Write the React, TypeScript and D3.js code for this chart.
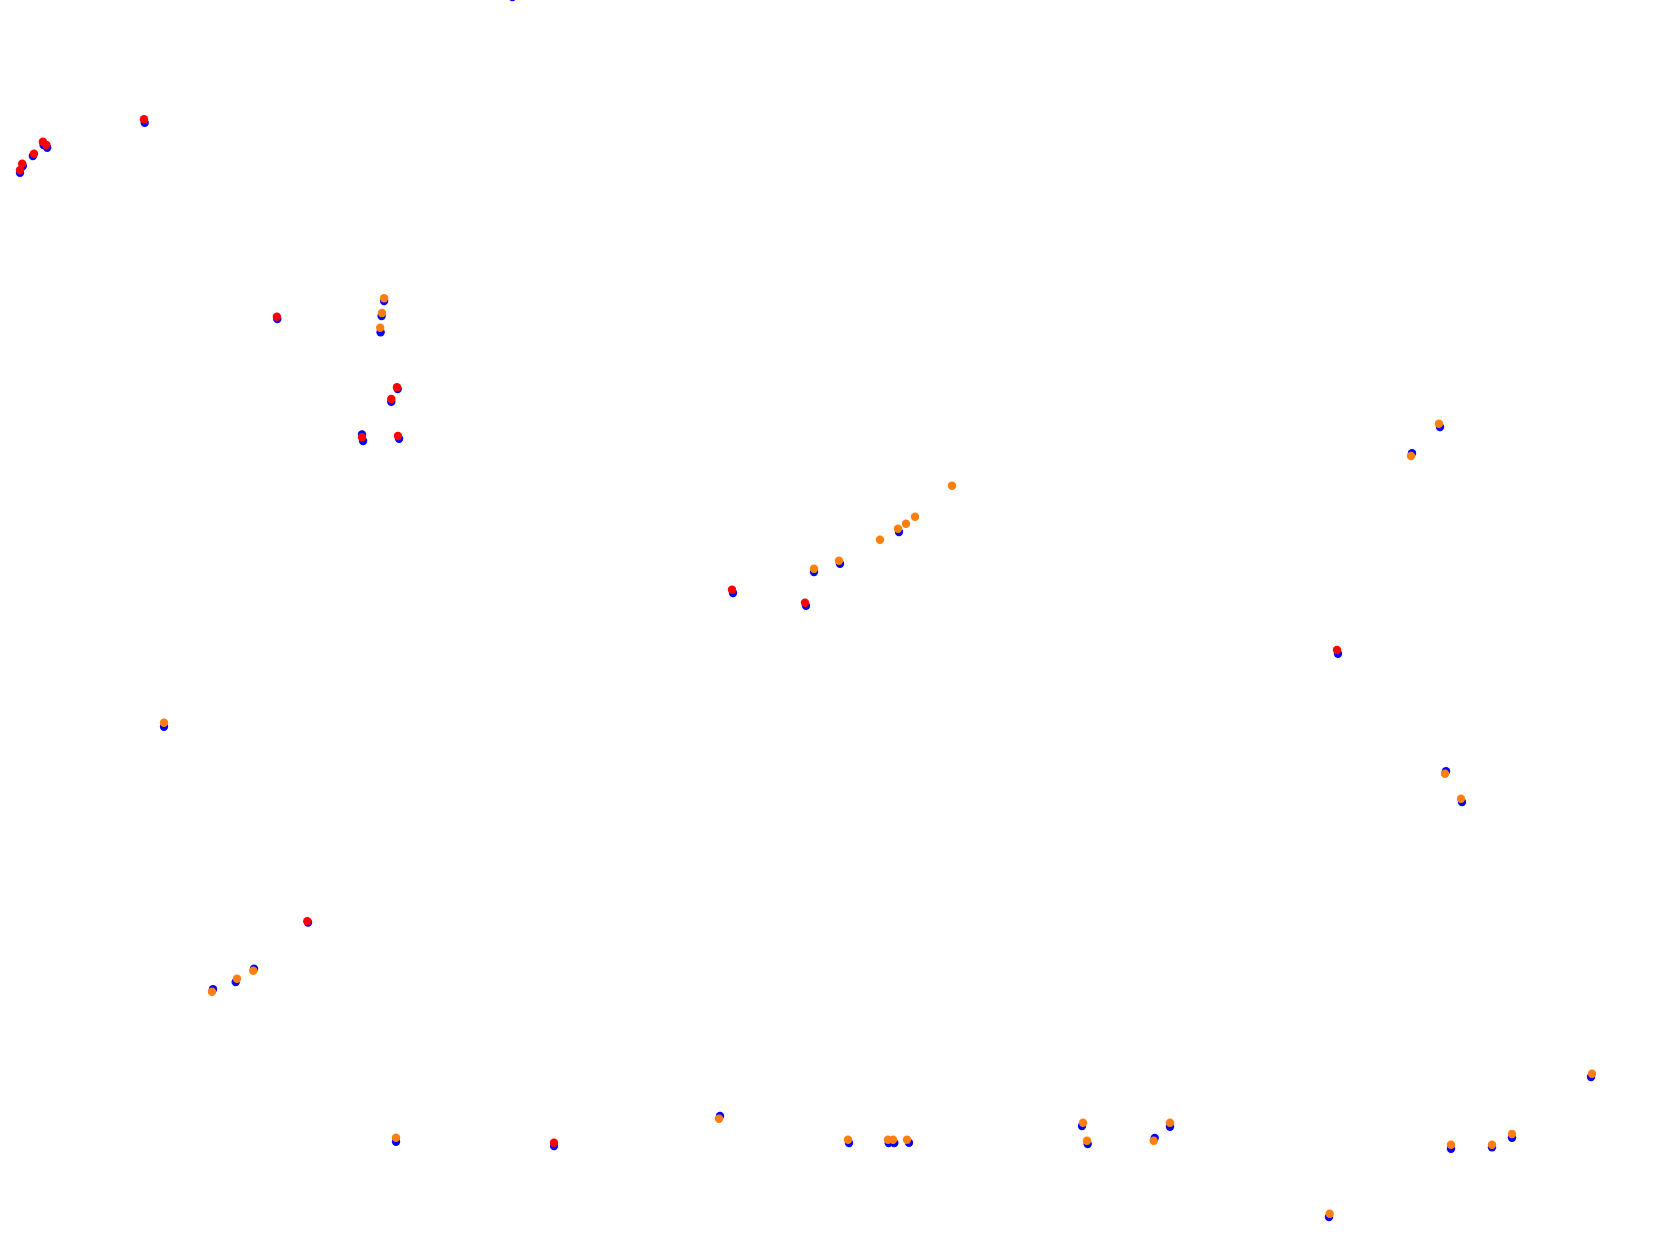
import React from "react";
import * as d3 from "d3";

// Series A (blue) – x, y in chart units
const blueX = [51.24, 14.47, 4.36, 4.72, 3.29, 2.28, 2.0, 27.73, 38.41, 38.16, 38.06, 39.77, 39.13, 36.2, 36.31, 39.91, 73.3, 80.6, 81.4, 84.0, 89.9, 144.0, 141.2, 133.8, 144.6, 146.2, 16.4, 30.8, 25.4, 23.57, 21.3, 39.6, 55.4, 72.0, 84.9, 88.87, 89.43, 90.9, 108.2, 108.77, 115.47, 117.0, 132.9, 145.1, 149.2, 151.2, 159.1];
const blueY = [-0.3, 12.27, 14.5, 14.77, 15.6, 16.6, 17.27, 31.9, 30.1, 31.6, 33.23, 38.9, 40.17, 43.45, 44.1, 43.87, 59.3, 60.57, 57.2, 56.37, 53.2, 42.7, 45.33, 65.37, 77.13, 80.2, 72.67, 92.25, 96.87, 98.2, 98.93, 114.17, 114.6, 111.6, 114.3, 114.3, 114.3, 114.27, 112.6, 114.4, 113.8, 112.67, 121.7, 114.87, 114.73, 113.77, 107.7];

// Series B, group "red"
const redX = [14.4, 4.29, 4.64, 3.4, 2.22, 2.0, 27.69, 39.7, 39.13, 36.2, 39.8, 73.2, 80.5, 133.7, 30.73, 55.4];
const redY = [11.93, 14.17, 14.5, 15.37, 16.37, 17.03, 31.67, 38.73, 39.9, 43.73, 43.6, 58.97, 60.27, 65.0, 92.12, 114.27];

// Series B, group "orange"
const orangeX = [38.41, 38.2, 38.02, 81.4, 83.9, 88.0, 89.8, 90.6, 91.5, 95.2, 143.9, 141.1, 144.5, 146.1, 16.4, 25.33, 23.7, 21.2, 39.6, 71.9, 84.8, 88.8, 89.3, 90.7, 108.3, 108.7, 115.37, 117.0, 132.97, 145.1, 149.2, 151.2, 159.2];
const orangeY = [29.83, 31.3, 32.77, 56.87, 56.07, 53.97, 52.87, 52.37, 51.67, 48.57, 42.37, 45.6, 77.37, 79.87, 72.27, 97.07, 97.87, 99.17, 113.77, 111.87, 113.97, 113.97, 113.97, 113.97, 112.27, 114.07, 114.07, 112.27, 121.37, 114.47, 114.47, 113.4, 107.37];

const W = 1680;
const H = 1248;

export default function App() {
  const x = d3.scaleLinear().domain([0, 168]).range([0, W]);
  const y = d3.scaleLinear().domain([0, 124.8]).range([0, H]);
  const r = 4.2;
  return (
    <svg
      width={W}
      height={H}
      style={{ position: "absolute", left: 0, top: 0, background: "#fff" }}
    >
      <rect x={0} y={0} width={W} height={H} fill="#ffffff" />
      <g>
        {blueX.map((v, i) => (
          <circle key={"b" + i} cx={x(v)} cy={y(blueY[i])} r={r} fill="#0000ff" />
        ))}
      </g>
      <g>
        {redX.map((v, i) => (
          <circle key={"r" + i} cx={x(v)} cy={y(redY[i])} r={r} fill="#ff0000" />
        ))}
        {orangeX.map((v, i) => (
          <circle key={"o" + i} cx={x(v)} cy={y(orangeY[i])} r={r} fill="#ff7f0e" />
        ))}
      </g>
    </svg>
  );
}
